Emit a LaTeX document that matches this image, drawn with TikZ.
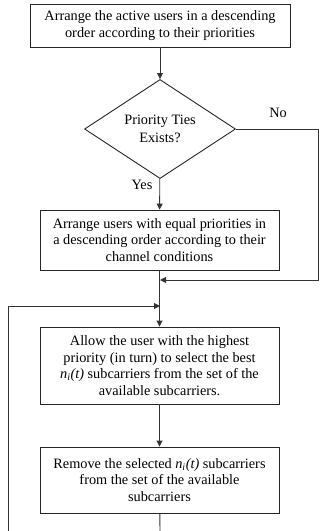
\documentclass[tikz,border=0pt]{standalone}
\usepackage{fontspec}
\setmainfont{Liberation Serif}
\usetikzlibrary{shapes.geometric,arrows.meta}
\begin{document}
\begin{tikzpicture}[x=1pt,y=1pt,
    stepbox/.style={draw=black!85,line width=0.9pt,align=center,inner sep=0pt,
      minimum width=239pt,font=\fontsize{14.3}{16.6}\selectfont},
    decision/.style={diamond,draw=black!85,line width=0.9pt,align=center,inner sep=0pt,
      minimum width=151pt,minimum height=74pt,font=\fontsize{14.3}{18}\selectfont},
    tag/.style={font=\fontsize{14.3}{16}\selectfont,inner sep=0pt},
    flow/.style={draw=black!80,line width=0.9pt},
    >={Triangle[length=6pt,width=6pt]}]
  \useasboundingbox (0,0) rectangle (320,-531);
  % boxes and decision
  \node[stepbox,minimum width=260pt,minimum height=43pt] (sort) at (160,-25.5)
    {Arrange the active users in a descending\\order according to their priorities};
  \node[decision] (tie) at (160,-129) {Priority Ties\\Exists?};
  \node[stepbox,minimum height=60pt] (rank) at (159.5,-240)
    {Arrange users with equal priorities in\\a descending order according to their\\channel conditions};
  \node[stepbox,minimum height=77pt] (alloc) at (159.5,-365.5)
    {Allow the user with the highest\\priority (in turn) to select the best\\
     \textit{n\textsubscript{i}(t)} subcarriers from the set of the\\available subcarriers.};
  \node[stepbox,minimum height=66pt] (remove) at (159.5,-480)
    {Remove the selected \textit{n\textsubscript{i}(t)} subcarriers\\from the set of the available\\subcarriers};
  \node[tag] (no) at (278,-113) {No};
  \node[tag] (yes) at (142,-185) {Yes};
  % junctions
  \coordinate (join) at (160,-280);
  \coordinate (loop) at (160,-306);
  \coordinate (noturn) at (318,-129);
  \coordinate (noback) at (318,-280);
  \coordinate (loopup) at (8,-531);
  \coordinate (loopdown) at (160,-531);
  % connectors
  \begin{scope}[flow,->]
    \draw (sort) -- (tie);
    \draw (tie) -- (rank);
    \draw (rank) -- (alloc);
    \draw (alloc) -- (remove);
    \draw (tie.east) -- (noturn) -- (noback) -- (join);
    \draw (loopup) |- (loop);
  \end{scope}
  \draw[flow] (remove) -- (loopdown);
\end{tikzpicture}
\end{document}
